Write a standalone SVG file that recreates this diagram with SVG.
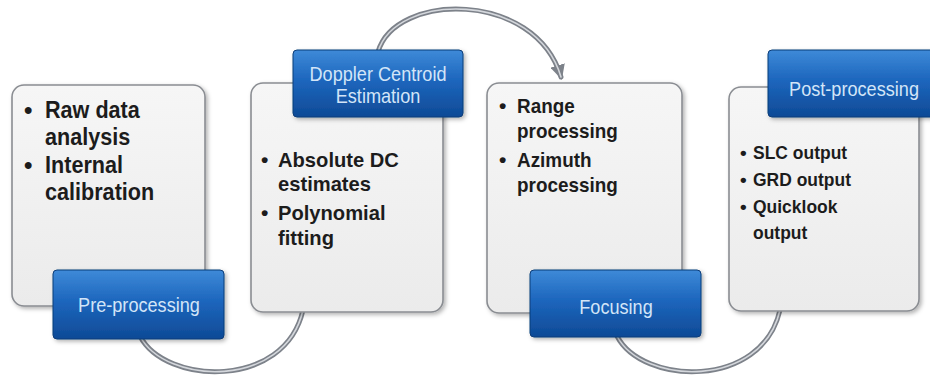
<svg xmlns="http://www.w3.org/2000/svg" width="930" height="378" viewBox="0 0 930 378">
<defs>
<linearGradient id="gbox" x1="0" y1="0" x2="0" y2="1">
<stop offset="0" stop-color="#f6f6f6"/><stop offset="1" stop-color="#ebebeb"/>
</linearGradient>
<linearGradient id="gblue" x1="0" y1="0" x2="0" y2="1">
<stop offset="0" stop-color="#3e8ad8"/><stop offset="0.45" stop-color="#1d66bd"/><stop offset="1" stop-color="#0e4a96"/>
</linearGradient>
<filter id="sh" x="-10%" y="-10%" width="130%" height="130%">
<feDropShadow dx="2" dy="2" stdDeviation="2" flood-color="#000" flood-opacity="0.3"/>
</filter>
<marker id="ah" viewBox="0 0 10 10" refX="8" refY="5" markerWidth="3" markerHeight="3" orient="auto" markerUnits="strokeWidth">
<path d="M0,0 L10,5 L0,10 z" fill="#7d828a"/>
</marker>
</defs>
<style>
.box{fill:url(#gbox);stroke:#8a8d92;stroke-width:1.6;filter:url(#sh)}
.lab{fill:url(#gblue);stroke:#0b3c78;stroke-width:1;filter:url(#sh)}
.ltx{font-family:"Liberation Sans",Arial,sans-serif;font-size:19.5px;fill:#d3e5f8;text-anchor:middle}
.t{font-family:"Liberation Sans",Arial,sans-serif;font-weight:700;fill:#1c1c1c}
.f1{font-size:24px}
.f2{font-size:21px}
.f4{font-size:19px}
.c1{fill:none;stroke:#7d828a;stroke-width:5;stroke-linecap:round}
.c2{fill:none;stroke:#d4d7dc;stroke-width:1.6;stroke-linecap:round}
</style>
<rect width="930" height="378" fill="#ffffff"/>
<g id="connectors">
<path class="c1" d="M140,336 C165,385 285,390 303,310"/>
<path class="c2" d="M140,336 C165,385 285,390 303,310"/>
<path class="c1" d="M378,52 C395,-8 535,-10 561,77" marker-end="url(#ah)"/>
<path class="c2" d="M378,52 C395,-8 535,-10 561,77"/>
<path class="c1" d="M617,336 C642,385 762,390 780,310"/>
<path class="c2" d="M617,336 C642,385 762,390 780,310"/>
</g>
<g id="box-preprocessing">
<rect class="box" x="12" y="85" width="193" height="221" rx="12"/>
<text class="t f1" x="24" y="118">•</text>
<text class="t f1" x="24" y="173">•</text>
<g transform="translate(45,0) scale(0.9,1)">
<text class="t f1" x="0" y="118">Raw data</text>
<text class="t f1" x="0" y="145">analysis</text>
<text class="t f1" x="0" y="173">Internal</text>
<text class="t f1" x="0" y="200">calibration</text>
</g>
</g>
<g id="label-preprocessing">
<rect class="lab" x="53" y="270" width="171" height="69" rx="4"/>
<g transform="translate(139,0) scale(0.93,1)"><text class="ltx" x="0" y="312">Pre-processing</text></g>
</g>
<g id="box-doppler">
<rect class="box" x="251" y="83" width="192" height="229" rx="12"/>
<text class="t f2" x="261" y="167">•</text>
<text class="t f2" x="261" y="220">•</text>
<g transform="translate(278,0) scale(0.96,1)">
<text class="t f2" x="0" y="167">Absolute DC</text>
<text class="t f2" x="0" y="191">estimates</text>
<text class="t f2" x="0" y="220">Polynomial</text>
<text class="t f2" x="0" y="245">fitting</text>
</g>
</g>
<g id="label-doppler">
<rect class="lab" x="293" y="50" width="170" height="67" rx="4"/>
<g transform="translate(378,0) scale(0.93,1)">
<text class="ltx" x="0" y="81">Doppler Centroid</text>
<text class="ltx" x="0" y="103">Estimation</text>
</g>
</g>
<g id="box-focusing">
<rect class="box" x="487" y="83" width="195" height="230" rx="12"/>
<text class="t f2" x="499" y="113">•</text>
<text class="t f2" x="499" y="167">•</text>
<g transform="translate(517,0) scale(0.9,1)">
<text class="t f2" x="0" y="113">Range</text>
<text class="t f2" x="0" y="138">processing</text>
<text class="t f2" x="0" y="167">Azimuth</text>
<text class="t f2" x="0" y="192">processing</text>
</g>
</g>
<g id="label-focusing">
<rect class="lab" x="530" y="270" width="171" height="67" rx="4"/>
<g transform="translate(616,0) scale(0.93,1)"><text class="ltx" x="0" y="314">Focusing</text></g>
</g>
<g id="box-postprocessing">
<rect class="box" x="729" y="87" width="190" height="224" rx="12"/>
<text class="t f4" x="740" y="159">•</text>
<text class="t f4" x="740" y="186">•</text>
<text class="t f4" x="740" y="213">•</text>
<g transform="translate(753,0) scale(0.92,1)">
<text class="t f4" x="0" y="159">SLC output</text>
<text class="t f4" x="0" y="186">GRD output</text>
<text class="t f4" x="0" y="213">Quicklook</text>
<text class="t f4" x="0" y="239">output</text>
</g>
</g>
<g id="label-postprocessing">
<rect class="lab" x="768" y="50" width="172" height="67" rx="4"/>
<g transform="translate(854,0) scale(0.93,1)"><text class="ltx" x="0" y="96">Post-processing</text></g>
</g>
</svg>
